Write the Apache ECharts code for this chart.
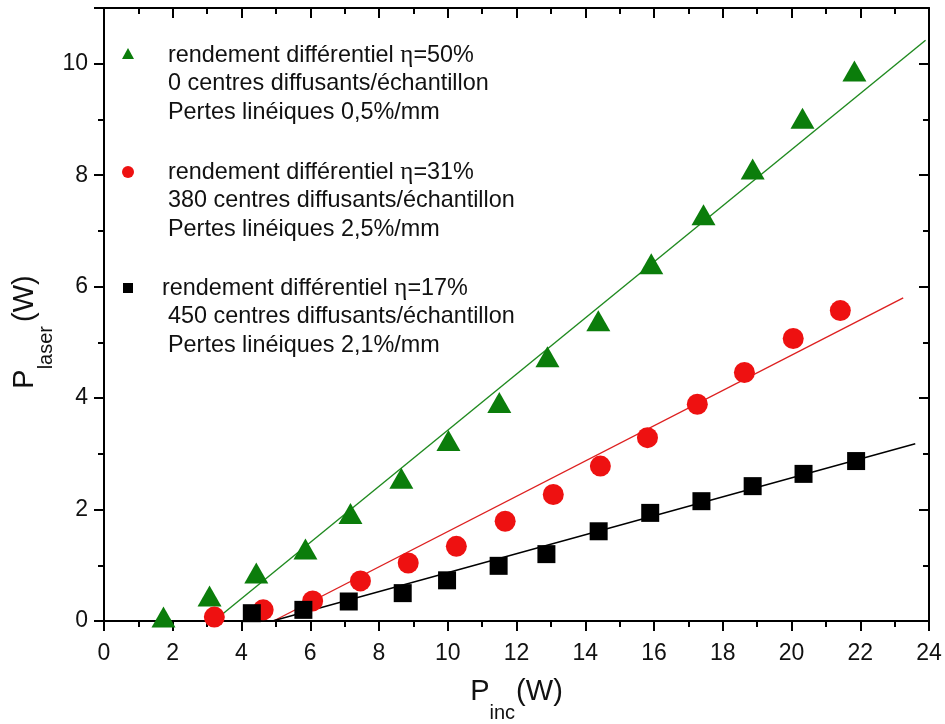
<!DOCTYPE html>
<html>
<head>
<meta charset="utf-8">
<script src="https://cdn.jsdelivr.net/npm/echarts@6/dist/echarts.min.js"></script>
<style>html,body{margin:0;padding:0;background:#fff}#c{width:945px;height:724px}</style>
</head>
<body>
<div id="c"></div>
<script>
// Series 1: eta = 50 % (green triangles)
var greenX = [1.73, 3.07, 4.43, 5.86, 7.17, 8.65, 10.02, 11.5, 12.9, 14.38, 15.92, 17.44, 18.87, 20.32, 21.83];
var greenY = [0.07, 0.45, 0.86, 1.29, 1.93, 2.56, 3.24, 3.92, 4.74, 5.39, 6.41, 7.29, 8.11, 9.02, 9.87];
// Series 2: eta = 31 % (red circles)
var redX = [3.21, 4.63, 6.07, 7.46, 8.85, 10.25, 11.67, 13.07, 14.44, 15.81, 17.26, 18.63, 20.05, 21.42];
var redY = [0.07, 0.2, 0.36, 0.72, 1.04, 1.34, 1.79, 2.27, 2.78, 3.29, 3.89, 4.46, 5.07, 5.57];
// Series 3: eta = 17 % (black squares)
var blackX = [4.3, 5.8, 7.12, 8.69, 9.98, 11.48, 12.87, 14.39, 15.89, 17.38, 18.87, 20.35, 21.88];
var blackY = [0.14, 0.2, 0.35, 0.5, 0.73, 0.99, 1.2, 1.61, 1.94, 2.15, 2.42, 2.64, 2.87];
// Linear fits (end points)
var greenFitX = [3.2, 23.9];
var greenFitY = [0, 10.42];
var redFitX = [4.93, 23.25];
var redFitY = [0, 5.8];
var blackFitX = [4.9, 23.6];
var blackFitY = [0, 3.18];
// Legend texts
var legendNames = [
  ['rendement différentiel ', 'η', '=50%', '0 centres diffusants/échantillon', 'Pertes linéiques 0,5%/mm'],
  ['rendement différentiel ', 'η', '=31%', '380 centres diffusants/échantillon', 'Pertes linéiques 2,5%/mm'],
  ['rendement différentiel ', 'η', '=17%', '450 centres diffusants/échantillon', 'Pertes linéiques 2,1%/mm']
];
// Axis settings
var xMin = 0, xMax = 24, xStep = 2;
var yMin = 0, yMax = 11, yStep = 2;

function pairs(xs, ys) { return xs.map(function (x, i) { return [x, ys[i]]; }); }

var FONT = 'Liberation Sans, Arial, sans-serif';
var GREEN = '#0b7d0b', RED = '#ee1111', BLACK = '#000000';

var chart = echarts.init(document.getElementById('c'));

function legendText(n, indented) {
  var s = indented ? 'i' : 'a';
  return '{a|' + n[0] + '}{e|' + n[1] + '}{a|' + n[2] + '}\n{' + s + '|' + n[3] + '}\n{' + s + '|' + n[4] + '}';
}
var legendRich = {
  a: { fontFamily: FONT, fontSize: 23.4, lineHeight: 28.5, fill: '#111', color: '#111' },
  i: { fontFamily: FONT, fontSize: 23.4, lineHeight: 28.5, fill: '#111', color: '#111', padding: [0, 0, 0, 6] },
  e: { fontFamily: 'Liberation Serif, Times New Roman, serif', fontSize: 25, lineHeight: 28.5, fill: '#111', color: '#111' }
};

var axisLineStyle = { onZero: false, lineStyle: { color: '#000', width: 2 } };
var tickStyle = { color: '#000', width: 2 };

var option = {
  animation: false,
  backgroundColor: '#fff',
  grid: { left: 104, right: 16, top: 8, bottom: 103, containLabel: false, outerBoundsMode: 'none' },
  xAxis: [{
    type: 'value', min: xMin, max: xMax, interval: xStep, position: 'bottom',
    axisLine: axisLineStyle,
    axisTick: { show: true, inside: false, length: 10, lineStyle: tickStyle },
    minorTick: { show: true, splitNumber: 2, length: 6, lineStyle: tickStyle },
    splitLine: { show: false },
    axisLabel: { fontFamily: FONT, fontSize: 23, color: '#111', margin: 21 },
    name: '{b|P}{s|inc}{c|(W)}',
    nameLocation: 'middle', nameGap: 56, nameMoveOverlap: false,
    nameTextStyle: {
      rich: {
        b: { fontFamily: FONT, fontSize: 29, color: '#111', lineHeight: 46, verticalAlign: 'top' },
        c: { fontFamily: FONT, fontSize: 29, color: '#111', lineHeight: 46, verticalAlign: 'top', padding: [0, 0, 0, 1] },
        s: { fontFamily: FONT, fontSize: 20, color: '#111', lineHeight: 20, verticalAlign: 'bottom' }
      }
    }
  }, {
    type: 'value', min: xMin, max: xMax, interval: xStep, position: 'top',
    axisLine: axisLineStyle,
    axisTick: { show: true, inside: true, length: 10, lineStyle: tickStyle },
    minorTick: { show: true, splitNumber: 2, length: 6, lineStyle: tickStyle },
    splitLine: { show: false },
    axisLabel: { show: false }
  }],
  yAxis: [{
    type: 'value', min: yMin, max: yMax, interval: yStep, position: 'left',
    axisLine: axisLineStyle,
    axisTick: { show: true, inside: false, length: 10, lineStyle: tickStyle },
    minorTick: { show: true, splitNumber: 2, length: 6, lineStyle: tickStyle },
    splitLine: { show: false },
    axisLabel: { fontFamily: FONT, fontSize: 23, color: '#111', margin: 16, showMaxLabel: false },
    name: '{b|P}{s|laser}{c|(W)}',
    nameLocation: 'middle', nameGap: 48, nameRotate: 90, nameMoveOverlap: false,
    nameTextStyle: {
      rich: {
        b: { fontFamily: FONT, fontSize: 29, color: '#111', lineHeight: 46, verticalAlign: 'top' },
        c: { fontFamily: FONT, fontSize: 29, color: '#111', lineHeight: 46, verticalAlign: 'top', padding: [0, 35, 0, 4] },
        s: { fontFamily: FONT, fontSize: 20, color: '#111', lineHeight: 20, verticalAlign: 'bottom' }
      }
    }
  }, {
    type: 'value', min: yMin, max: yMax, interval: yStep, position: 'right',
    axisLine: axisLineStyle,
    axisTick: { show: true, inside: true, length: 10, lineStyle: tickStyle },
    minorTick: { show: true, splitNumber: 2, length: 6, lineStyle: tickStyle },
    splitLine: { show: false },
    axisLabel: { show: false }
  }],
  series: [
    { name: 'fit50', type: 'line', data: pairs(greenFitX, greenFitY), showSymbol: false, symbol: 'none',
      lineStyle: { color: '#1f8a1f', width: 1.4 }, z: 2 },
    { name: 'fit31', type: 'line', data: pairs(redFitX, redFitY), showSymbol: false, symbol: 'none',
      lineStyle: { color: '#dd2020', width: 1.4 }, z: 2 },
    { name: 'fit17', type: 'line', data: pairs(blackFitX, blackFitY), showSymbol: false, symbol: 'none',
      lineStyle: { color: '#000', width: 1.4 }, z: 2 },
    { name: 'eta50', type: 'scatter', data: pairs(greenX, greenY), symbol: 'triangle', symbolSize: [24, 21],
      itemStyle: { color: GREEN, opacity: 1 }, z: 3 },
    { name: 'eta31', type: 'scatter', data: pairs(redX, redY), symbol: 'circle', symbolSize: 21,
      itemStyle: { color: RED, opacity: 1 }, z: 3 },
    { name: 'eta17', type: 'scatter', data: pairs(blackX, blackY), symbol: 'rect', symbolSize: 18,
      itemStyle: { color: BLACK, opacity: 1 }, z: 3 }
  ],
  graphic: [
    { type: 'polygon', shape: { points: [[122, 59], [128, 48], [134, 59]] }, style: { fill: GREEN } },
    { type: 'circle', shape: { cx: 128, cy: 172, r: 6 }, style: { fill: RED } },
    { type: 'rect', shape: { x: 123, y: 283, width: 10, height: 10 }, style: { fill: BLACK } },
    { type: 'text', x: 168, y: 41, style: { text: legendText(legendNames[0], false), rich: legendRich, font: '23.4px ' + FONT } },
    { type: 'text', x: 168, y: 158, style: { text: legendText(legendNames[1], false), rich: legendRich, font: '23.4px ' + FONT } },
    { type: 'text', x: 162, y: 274, style: { text: legendText(legendNames[2], true), rich: legendRich, font: '23.4px ' + FONT } }
  ]
};
chart.setOption(option);
</script>
</body>
</html>
